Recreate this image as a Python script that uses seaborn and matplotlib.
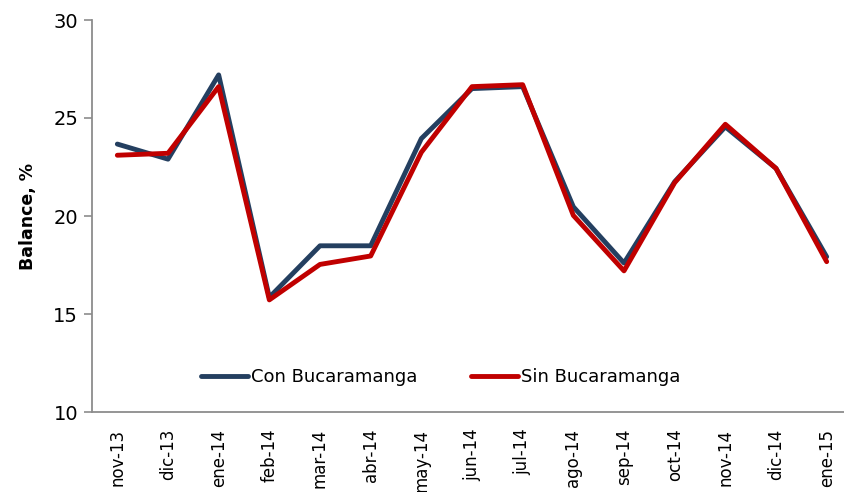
import matplotlib
matplotlib.use("Agg")
import matplotlib.pyplot as plt
import seaborn as sns
import pandas as pd

months = ["nov-13", "dic-13", "ene-14", "feb-14", "mar-14", "abr-14", "may-14",
          "jun-14", "jul-14", "ago-14", "sep-14", "oct-14", "nov-14", "dic-14", "ene-15"]
con_bucaramanga = [23.67, 22.9, 27.2, 15.85, 18.48, 18.48, 23.95,
                   26.5, 26.6, 20.47, 17.6, 21.75, 24.55, 22.43, 17.92]
sin_bucaramanga = [23.1, 23.2, 26.6, 15.72, 17.53, 17.96, 23.25,
                   26.6, 26.7, 20.03, 17.2, 21.7, 24.68, 22.43, 17.67]
series_names = ["Con Bucaramanga", "Sin Bucaramanga"]

df = pd.DataFrame({
    "mes": months * 2,
    "valor": con_bucaramanga + sin_bucaramanga,
    "serie": [series_names[0]] * len(months) + [series_names[1]] * len(months),
})

sns.set_theme(style="white")
plt.rcParams["font.family"] = ["DejaVu Sans"]
plt.rcParams["text.color"] = "black"

fig = plt.figure(figsize=(8.44, 4.92), dpi=100)
ax = fig.add_axes([92 / 844, 1 - 412 / 492, (852 - 92) / 844, 392 / 492])

sns.lineplot(data=df, x="mes", y="valor", hue="serie", sort=False,
             palette={series_names[0]: "#243F60", series_names[1]: "#C00000"},
             linewidth=3.5, ax=ax, legend=True)

ax.set_xlim(-0.5, 14.5)
ax.set_ylim(10, 30)
ax.set_yticks([10, 15, 20, 25, 30])
ax.set_xlabel("")
ax.set_ylabel("Balance, %", fontsize=12.5, fontweight="bold", color="black", labelpad=12)

for s in ["top", "right"]:
    ax.spines[s].set_visible(False)
for s in ["left", "bottom"]:
    ax.spines[s].set_color("#8C8C8C")
    ax.spines[s].set_linewidth(1.3)

ax.tick_params(axis="y", which="both", left=True, length=6, width=1.2,
               color="#8C8C8C", labelsize=14, labelcolor="black", pad=4)
ax.tick_params(axis="x", bottom=False, length=0, labelsize=12, labelcolor="black", pad=12)
plt.setp(ax.get_xticklabels(), rotation=90, va="top", ha="center")
ax.grid(False)

leg = ax.legend(loc="center", bbox_to_anchor=(0.459, 0.089), ncol=2, frameon=False,
                fontsize=13, handlelength=2.6, handletextpad=0.15, columnspacing=3.0)
for text in leg.get_texts():
    text.set_color("black")
for line in leg.get_lines():
    line.set_linewidth(3.5)
    line.set_solid_capstyle("round")

fig.savefig("out.png", dpi=100)
